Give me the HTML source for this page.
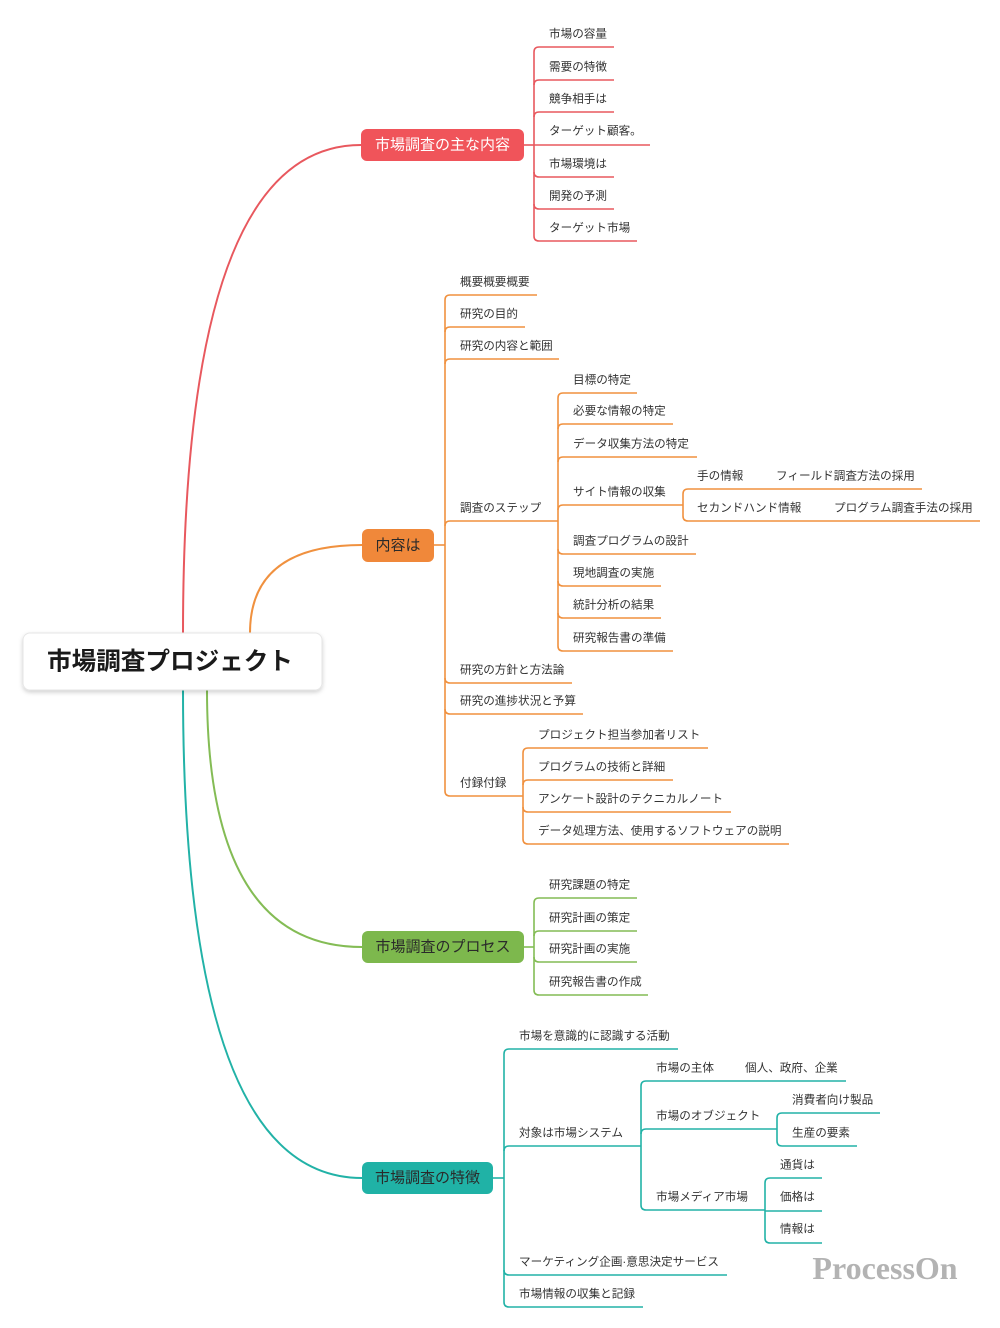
<!DOCTYPE html>
<html><head><meta charset="utf-8"><style>
html,body{margin:0;padding:0;background:#fff;}
svg{display:block;}
text{font-family:"Liberation Sans","Noto Sans CJK JP",sans-serif;}
.t{font-size:11.6px;fill:#333;dominant-baseline:central;}
.m{font-size:15px;dominant-baseline:central;}
</style></head><body>
<svg width="1000" height="1328" viewBox="0 0 1000 1328" xmlns="http://www.w3.org/2000/svg">
<defs>
<filter id="sh" x="-10%" y="-20%" width="120%" height="160%">
<feDropShadow dx="0" dy="2" stdDeviation="2" flood-color="#000" flood-opacity="0.18"/>
</filter>
</defs>

<!-- main curves -->
<g fill="none" stroke-width="2">
<path d="M183,633 Q183,145 361,145" stroke="#E8585E"/>
<path d="M250,633 Q250,545 362,545" stroke="#F0913F"/>
<path d="M207,690 Q207,947 362,947" stroke="#84BC55"/>
<path d="M183,690 Q183,1178 362,1178" stroke="#22B2A7"/>
</g>

<!-- red branch -->
<g fill="none" stroke="#E8585E" stroke-width="1.6">
<path d="M523,145 H534"/>
<path d="M534,52 V236"/>
<path d="M534,52 Q534,47 539,47 H614"/>
<path d="M534,85 Q534,80 539,80 H614"/>
<path d="M534,117 Q534,112 539,112 H614"/>
<path d="M534,145 H650"/>
<path d="M534,172 Q534,177 539,177 H614"/>
<path d="M534,204 Q534,209 539,209 H614"/>
<path d="M534,236 Q534,241 539,241 H637"/>
</g>
<g class="t">
<text class="t" x="549" y="34">市場の容量</text>
<text class="t" x="549" y="67">需要の特徴</text>
<text class="t" x="549" y="99">競争相手は</text>
<text class="t" x="549" y="131">ターゲット顧客。</text>
<text class="t" x="549" y="164">市場環境は</text>
<text class="t" x="549" y="196">開発の予測</text>
<text class="t" x="549" y="228">ターゲット市場</text>
</g>

<!-- orange branch -->
<g fill="none" stroke="#F0913F" stroke-width="1.6">
<path d="M434,545 H445"/>
<path d="M445,300 V791"/>
<path d="M445,300 Q445,295 450,295 H537"/>
<path d="M445,332 Q445,327 450,327 H525"/>
<path d="M445,364 Q445,359 450,359 H559"/>
<path d="M445,526 Q445,521 450,521 H558"/>
<path d="M445,678 Q445,683 450,683 H572"/>
<path d="M445,709 Q445,714 450,714 H583"/>
<path d="M445,791 Q445,796 450,796 H523"/>
<!-- steps -->
<path d="M558,398 V646"/>
<path d="M558,398 Q558,393 563,393 H637"/>
<path d="M558,429 Q558,424 563,424 H673"/>
<path d="M558,462 Q558,457 563,457 H697"/>
<path d="M558,510 Q558,505 563,505 H683"/>
<path d="M558,549 Q558,554 563,554 H696"/>
<path d="M558,581 Q558,586 563,586 H661"/>
<path d="M558,613 Q558,618 563,618 H661"/>
<path d="M558,646 Q558,651 563,651 H673"/>
<!-- site info -->
<path d="M683,494 V516"/>
<path d="M683,494 Q683,489 688,489 H922"/>
<path d="M683,516 Q683,521 688,521 H980"/>
<!-- appendix -->
<path d="M523,753 V839"/>
<path d="M523,753 Q523,748 528,748 H708"/>
<path d="M523,785 Q523,780 528,780 H673"/>
<path d="M523,807 Q523,812 528,812 H731"/>
<path d="M523,839 Q523,844 528,844 H789"/>
</g>
<g>
<text class="t" x="460" y="282">概要概要概要</text>
<text class="t" x="460" y="314">研究の目的</text>
<text class="t" x="460" y="346">研究の内容と範囲</text>
<text class="t" x="460" y="508">調査のステップ</text>
<text class="t" x="460" y="670">研究の方針と方法論</text>
<text class="t" x="460" y="701">研究の進捗状況と予算</text>
<text class="t" x="460" y="783">付録付録</text>

<text class="t" x="573" y="380">目標の特定</text>
<text class="t" x="573" y="411">必要な情報の特定</text>
<text class="t" x="573" y="444">データ収集方法の特定</text>
<text class="t" x="573" y="492">サイト情報の収集</text>
<text class="t" x="573" y="541">調査プログラムの設計</text>
<text class="t" x="573" y="573">現地調査の実施</text>
<text class="t" x="573" y="605">統計分析の結果</text>
<text class="t" x="573" y="638">研究報告書の準備</text>

<text class="t" x="697" y="476">手の情報</text>
<text class="t" x="776" y="476">フィールド調査方法の採用</text>
<text class="t" x="697" y="508">セカンドハンド情報</text>
<text class="t" x="834" y="508">プログラム調査手法の採用</text>

<text class="t" x="538" y="735">プロジェクト担当参加者リスト</text>
<text class="t" x="538" y="767">プログラムの技術と詳細</text>
<text class="t" x="538" y="799">アンケート設計のテクニカルノート</text>
<text class="t" x="538" y="831">データ処理方法、使用するソフトウェアの説明</text>
</g>

<!-- green branch -->
<g fill="none" stroke="#84BC55" stroke-width="1.6">
<path d="M524,947 H534"/>
<path d="M534,903 V990"/>
<path d="M534,903 Q534,898 539,898 H637"/>
<path d="M534,936 Q534,931 539,931 H637"/>
<path d="M534,957 Q534,962 539,962 H637"/>
<path d="M534,990 Q534,995 539,995 H648"/>
</g>
<g>
<text class="t" x="549" y="885">研究課題の特定</text>
<text class="t" x="549" y="918">研究計画の策定</text>
<text class="t" x="549" y="949">研究計画の実施</text>
<text class="t" x="549" y="982">研究報告書の作成</text>
</g>

<!-- teal branch -->
<g fill="none" stroke="#22B2A7" stroke-width="1.6">
<path d="M493,1178 H504"/>
<path d="M504,1054 V1302"/>
<path d="M504,1054 Q504,1049 509,1049 H678"/>
<path d="M504,1151 Q504,1146 509,1146 H641"/>
<path d="M504,1270 Q504,1275 509,1275 H727"/>
<path d="M504,1302 Q504,1307 509,1307 H643"/>
<!-- system -->
<path d="M641,1086 V1205"/>
<path d="M641,1086 Q641,1081 646,1081 H846"/>
<path d="M641,1134 Q641,1129 646,1129 H777"/>
<path d="M641,1205 Q641,1210 646,1210 H765"/>
<!-- object -->
<path d="M777,1118 V1141"/>
<path d="M777,1118 Q777,1113 782,1113 H880"/>
<path d="M777,1141 Q777,1146 782,1146 H857"/>
<!-- media -->
<path d="M765,1183 V1238"/>
<path d="M765,1183 Q765,1178 770,1178 H822"/>
<path d="M765,1211 H822"/>
<path d="M765,1238 Q765,1243 770,1243 H822"/>
</g>
<g>
<text class="t" x="519" y="1036">市場を意識的に認識する活動</text>
<text class="t" x="519" y="1133">対象は市場システム</text>
<text class="t" x="519" y="1262">マーケティング企画·意思決定サービス</text>
<text class="t" x="519" y="1294">市場情報の収集と記録</text>

<text class="t" x="656" y="1068">市場の主体</text>
<text class="t" x="745" y="1068">個人、政府、企業</text>
<text class="t" x="656" y="1116">市場のオブジェクト</text>
<text class="t" x="656" y="1197">市場メディア市場</text>

<text class="t" x="792" y="1100">消費者向け製品</text>
<text class="t" x="792" y="1133">生産の要素</text>

<text class="t" x="780" y="1165">通貨は</text>
<text class="t" x="780" y="1197">価格は</text>
<text class="t" x="780" y="1229">情報は</text>
</g>

<!-- main nodes -->
<rect x="361" y="129" width="163" height="32" rx="6" fill="#F0545A"/>
<text class="m" x="442.5" y="145" text-anchor="middle" fill="#fff">市場調査の主な内容</text>

<rect x="362" y="529" width="72" height="33" rx="6" fill="#F0883A"/>
<text class="m" x="398" y="545.5" text-anchor="middle" fill="#2a2a2a">内容は</text>

<rect x="362" y="931" width="162" height="32" rx="6" fill="#7DB84D"/>
<text class="m" x="443" y="947" text-anchor="middle" fill="#2a2a2a">市場調査のプロセス</text>

<rect x="362" y="1162" width="131" height="32" rx="6" fill="#20B2A6"/>
<text class="m" x="427.5" y="1178" text-anchor="middle" fill="#2a2a2a">市場調査の特徴</text>

<!-- root -->
<rect x="23" y="633" width="299" height="57" rx="7" fill="#fff" stroke="#e6e6e6" stroke-width="1" filter="url(#sh)"/>
<text x="170" y="662" text-anchor="middle" style="font-size:24.6px;font-weight:bold;fill:#1a1a1a;dominant-baseline:central;">市場調査プロジェクト</text>

<!-- watermark -->
<text x="885" y="1279" text-anchor="middle" style="font-family:'Liberation Serif',serif;font-size:32px;font-weight:bold;fill:#b3b3b3;">ProcessOn</text>
</svg>
</body></html>
